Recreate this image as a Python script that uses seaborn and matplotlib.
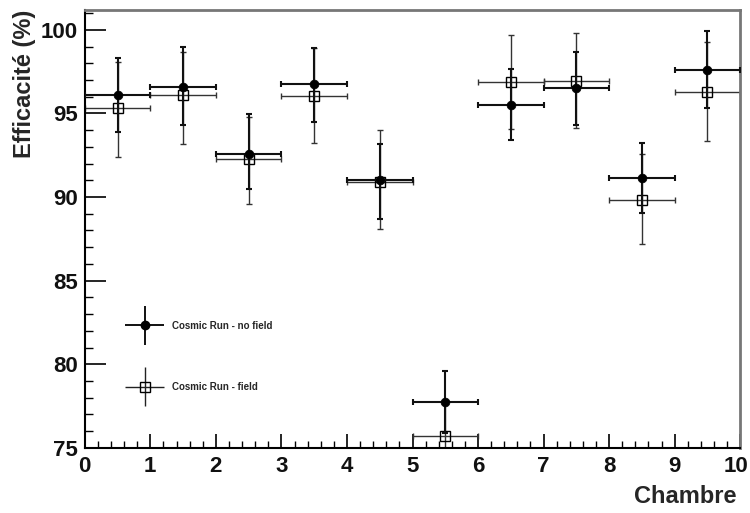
import numpy as np
import pandas as pd
import matplotlib
matplotlib.use('Agg')
import matplotlib.pyplot as plt
from matplotlib.ticker import MultipleLocator, FuncFormatter
from matplotlib.legend_handler import HandlerErrorbar
import seaborn as sns

# efficacité par chambre, deux runs cosmiques
chambre = [0.5, 1.5, 2.5, 3.5, 4.5, 5.5, 6.5, 7.5, 8.5, 9.5]
eff_nofield = [96.1, 96.6, 92.6, 96.75, 91.0, 77.75, 95.5, 96.5, 91.15, 97.6]
err_nofield_up = [2.2, 2.4, 2.35, 2.15, 2.2, 1.85, 2.15, 2.2, 2.1, 2.3]
err_nofield_dn = [2.2, 2.3, 2.1, 2.25, 2.3, 1.85, 2.1, 2.2, 2.1, 2.3]
eff_field = [95.3, 96.1, 92.3, 96.05, 90.9, 75.7, 96.85, 96.95, 89.85, 96.3]
err_field_up = [2.8, 2.6, 2.5, 2.85, 3.1, 1.9, 2.85, 2.85, 2.75, 2.95]
err_field_dn = [2.9, 2.9, 2.7, 2.8, 2.8, 1.9, 2.8, 2.85, 2.65, 2.95]
bin_half = [0.5] * len(chambre)
runs = ['Cosmic Run - no field', 'Cosmic Run - field']
X_MAX = 10

LABEL_FONT = ['Liberation Sans Narrow', 'Liberation Sans', 'DejaVu Sans']

df = pd.DataFrame({
    'chambre': chambre * 2,
    'eff': eff_nofield + eff_field,
    'run': [runs[0]] * len(chambre) + [runs[1]] * len(chambre),
})

sns.set_theme(style='white')
plt.rcParams['font.family'] = LABEL_FONT

fig = plt.figure(figsize=(7.5, 5.13), dpi=100)
ax = fig.add_axes([0.113, 0.127, 0.874, 0.854])

ax.errorbar(chambre, eff_field, yerr=[err_field_dn, err_field_up], xerr=bin_half,
            fmt='s', ms=7.5, mfc='none', mec='black', mew=1.0,
            ecolor='#333333', elinewidth=1.0, capsize=2.5, capthick=1.0, zorder=2)
ax.errorbar(chambre, eff_nofield, yerr=[err_nofield_dn, err_nofield_up], xerr=bin_half,
            fmt='none', ecolor='#111111', elinewidth=1.5, capsize=2.5, capthick=1.5, zorder=3)
sns.scatterplot(data=df[df['run'] == runs[0]], x='chambre', y='eff',
                color='black', s=40, marker='o', edgecolor='black', linewidth=0.5,
                ax=ax, zorder=4, legend=False)

# legend handles in ROOT style (marker + cross, no caps)
leg_nofield = ax.errorbar([np.nan], [np.nan], yerr=[1], xerr=[1], fmt='o', ms=6, color='black',
                          ecolor='#111111', elinewidth=1.4)
leg_field = ax.errorbar([np.nan], [np.nan], yerr=[1], xerr=[1], fmt='s', ms=7.5, mfc='none',
                        mec='black', mew=1.0, ecolor='#222222', elinewidth=1.0)

ax.set_xlim(0, X_MAX)
ax.set_ylim(75, 101.2)
ax.xaxis.set_major_locator(MultipleLocator(1))
ax.xaxis.set_minor_locator(MultipleLocator(0.2))
ax.yaxis.set_major_locator(MultipleLocator(5))
ax.yaxis.set_minor_locator(MultipleLocator(1))
# last x label drawn separately so it stays inside the canvas
ax.xaxis.set_major_formatter(FuncFormatter(lambda v, p: '' if v >= X_MAX else f'{v:.0f}'))
ax.tick_params(axis='x', which='major', direction='in', length=10, width=1.2, color='black',
               labelsize=16, pad=6, bottom=True)
ax.tick_params(axis='x', which='minor', direction='in', length=5, width=1.0, color='black', bottom=True)
ax.tick_params(axis='y', which='major', direction='in', length=15, width=1.2, color='black',
               labelsize=16, pad=5, left=True)
ax.tick_params(axis='y', which='minor', direction='in', length=6, width=1.0, color='black', left=True)
for lab in ax.get_xticklabels() + ax.get_yticklabels():
    lab.set_fontweight('bold')
    lab.set_color('#111111')
ax.annotate(f'{X_MAX}', xy=(X_MAX, 0), xycoords=('data', 'axes fraction'),
            xytext=(6, -6), textcoords='offset points', ha='right', va='top',
            fontsize=16, fontweight='bold', color='#111111')

for side in ['left', 'bottom']:
    ax.spines[side].set_color('black')
    ax.spines[side].set_linewidth(1.5)
for side in ['top', 'right']:
    ax.spines[side].set_color('#777777')
    ax.spines[side].set_linewidth(2.0)

ax.set_xlabel('Chambre', fontsize=17, fontweight='bold')
ax.xaxis.set_label_coords(0.994, -0.112, transform=ax.transAxes)
ax.xaxis.label.set_horizontalalignment('right')
ax.xaxis.label.set_verticalalignment('center')
ax.set_ylabel('Efficacité (%)', fontsize=17, fontweight='bold')
ax.yaxis.set_label_coords(-0.092, 1.0, transform=ax.transAxes)
ax.yaxis.label.set_horizontalalignment('right')
ax.yaxis.label.set_verticalalignment('center')

leg = ax.legend(handles=[leg_nofield, leg_field], labels=runs,
                loc='upper left', bbox_to_anchor=(0.047, 0.31), frameon=False,
                fontsize=7, handlelength=4.2, labelspacing=5.3, handletextpad=0.7,
                handler_map={type(leg_field): HandlerErrorbar(xerr_size=2.0, yerr_size=2.0)})
for t in leg.get_texts():
    t.set_fontweight('bold')

fig.savefig('out.png', dpi=100)
plt.close(fig)
